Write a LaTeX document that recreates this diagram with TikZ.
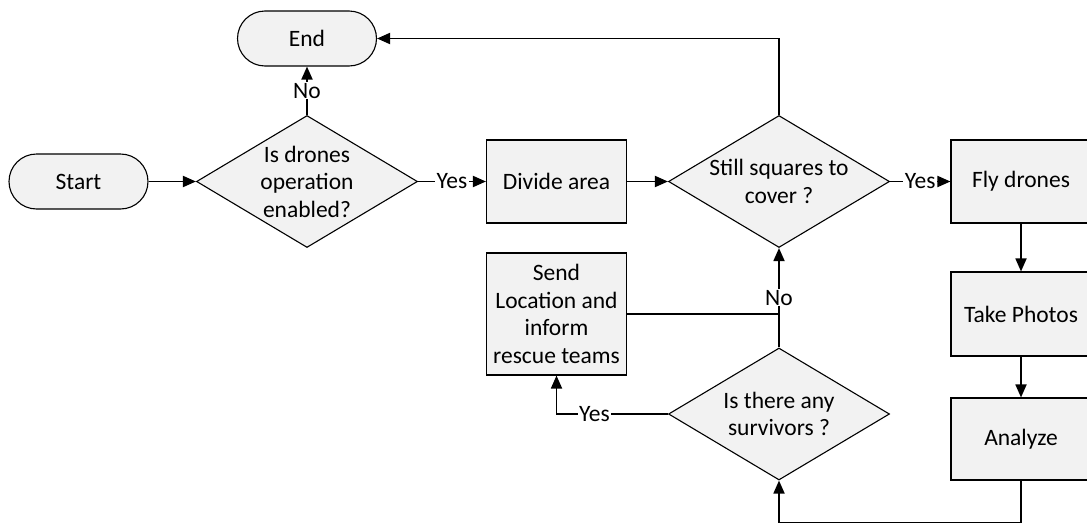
\documentclass[tikz,border=0pt]{standalone}
\usepackage{fontspec}
\setmainfont{Carlito}
\usetikzlibrary{arrows.meta,shapes.geometric}
\definecolor{shapefill}{HTML}{F2F2F2}
\begin{document}
\begin{tikzpicture}[x=1pt,y=-1pt,
  font=\fontsize{23.5}{27.5}\selectfont,
  base/.style={draw=black, line width=1.1pt, fill=shapefill, inner sep=0pt},
  terminal/.style={base, rectangle, rounded corners=27.5pt, minimum width=139pt, minimum height=55pt},
  process/.style={base, rectangle, minimum width=140pt, minimum height=83pt, align=center},
  decision/.style={base, diamond, minimum width=221pt, minimum height=132pt,
    label={[align=center]center:#1}},
  flow/.style={line width=1.8pt, -{Triangle[length=13pt,width=11pt]}},
  link/.style={line width=1.8pt},
  lbl/.style={fill=white, inner xsep=1.5pt, inner ysep=1pt},
]
\useasboundingbox (0,0) rectangle (1087,525);

% shapes
\node[terminal] (start) at (78.5,181.5) {Start};
\node[terminal] (end) at (307,38.5) {End};
\node[decision={Is drones\\operation\\enabled?}] (enabled) at (307,181.5) {};
\node[process] (divide) at (556.5,181.5) {Divide area};
\node[decision={Still squares to\\cover ?}] (squares) at (779,181.5) {};
\node[process] (fly) at (1021,181.5) {Fly drones};
\node[process, minimum height=84pt] (photos) at (1021,314) {Take Photos};
\node[process, minimum height=82pt] (analyze) at (1021,439) {Analyze};
\node[process, minimum height=122pt] (send) at (556.5,314) {Send\\Location and\\inform\\rescue teams};
\node[decision={Is there any\\survivors ?}] (survivors) at (779,414) {};

% connectors
\draw[flow] (start.east) -- (enabled.west);
\draw[flow] (enabled.east) -- node[lbl] {Yes} (divide.west);
\draw[flow] (enabled.north) -- node[lbl] {No} (end.south);
\draw[flow] (divide.east) -- (squares.west);
\draw[flow] (squares.east) -- node[lbl] {Yes} (fly.west);
\draw[flow] (squares.north) |- (end.east);
\draw[flow] (fly.south) -- (photos.north);
\draw[flow] (photos.south) -- (analyze.north);
\draw[flow] (analyze.south) -- ++(0,42) -| (survivors.south);
\draw[link] (send.east) -- (send.east -| survivors.north);
\draw[flow] (survivors.north) -- node[lbl] {No} (squares.south);
\draw[flow] (survivors.west) -| node[lbl, pos=0.33] {Yes} (send.south);
\end{tikzpicture}
\end{document}
